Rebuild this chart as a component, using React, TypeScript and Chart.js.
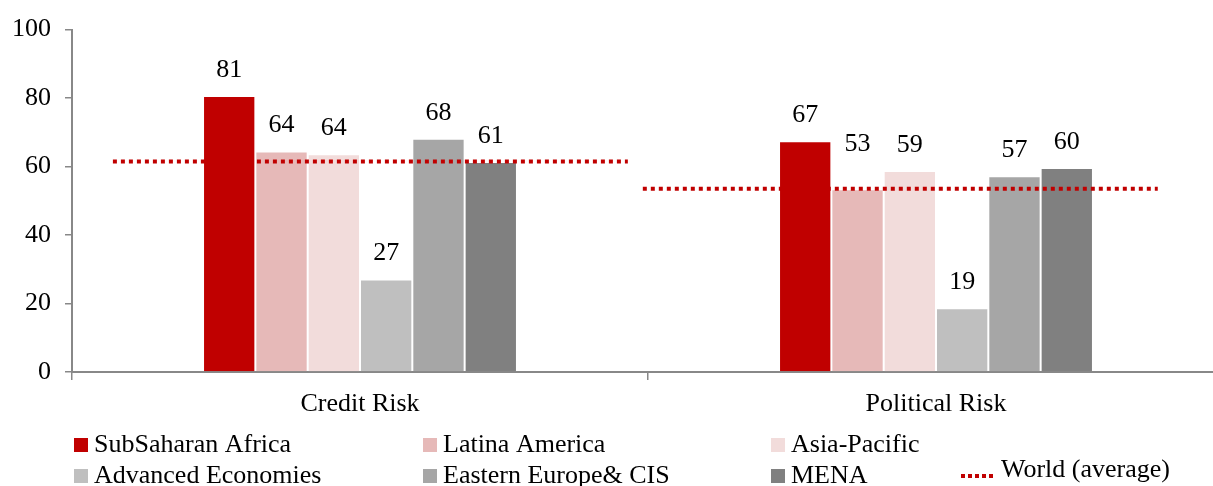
import React, { useEffect, useRef } from "react";
import { Chart, registerables } from "chart.js";

Chart.register(...registerables);

const categories = ["Credit Risk", "Political Risk"];
const seriesNames = [
  "SubSaharan Africa",
  "Latina America",
  "Asia-Pacific",
  "Advanced Economies",
  "Eastern Europe& CIS",
  "MENA",
];
const seriesColors = ["#C00000", "#E6B9B8", "#F2DCDB", "#BFBFBF", "#A6A6A6", "#808080"];
const subSaharan = [80.6, 67.4];
const latinAmerica = [64.4, 53.4];
const asiaPacific = [63.6, 58.7];
const advanced = [27.0, 18.6];
const easternEurope = [68.1, 57.2];
const mena = [61.3, 59.6];
const seriesValues = [subSaharan, latinAmerica, asiaPacific, advanced, easternEurope, mena];
const worldAverage = [61.5, 53.5];
// start/end of each world-average segment, in category-index units (category centres at 0 and 1)
const worldSpans = [
  [-0.429, 0.465],
  [0.491, 1.385],
];
const yTicks = [0, 20, 40, 60, 80, 100];
const worldName = "World (average)";

const FONT = '"Liberation Serif", "Times New Roman", serif';

export default function App() {
  const ref = useRef<HTMLCanvasElement | null>(null);

  useEffect(() => {
    if (!ref.current) return;

    const lineData: any[] = [];
    worldAverage.forEach((v, i) => {
      if (i > 0) lineData.push({ x: (worldSpans[i - 1][1] + worldSpans[i][0]) / 2, y: null });
      lineData.push({ x: worldSpans[i][0], y: v });
      lineData.push({ x: worldSpans[i][1], y: v });
    });

    const labelPlugin = {
      id: "barLabels",
      afterDatasetsDraw(chart: any) {
        const ctx = chart.ctx;
        ctx.save();
        ctx.font = `26px ${FONT}`;
        ctx.fillStyle = "#000";
        ctx.textAlign = "center";
        ctx.textBaseline = "middle";
        seriesValues.forEach((vals, di) => {
          const meta = chart.getDatasetMeta(di);
          meta.data.forEach((el: any, i: number) => {
            const lift = di === 1 && i === 1 ? 45 : 26;
            ctx.fillText(String(Math.round(vals[i])), el.x, el.y - lift);
          });
        });
        ctx.restore();
      },
    };

    const legendPlugin = {
      id: "customLegend",
      afterDraw(chart: any) {
        const ctx = chart.ctx;
        ctx.save();
        ctx.font = `26px ${FONT}`;
        ctx.textBaseline = "middle";
        ctx.textAlign = "left";
        const colX = [74, 423, 771];
        const rowY = [445, 476];
        seriesNames.forEach((name, i) => {
          const x = colX[i % 3];
          const y = rowY[Math.floor(i / 3)];
          ctx.fillStyle = seriesColors[i];
          ctx.fillRect(x, y - 7, 14, 14);
          ctx.fillStyle = "#000";
          ctx.fillText(name, x + 20, y);
        });
        const wy = 470;
        ctx.strokeStyle = "#C00000";
        ctx.lineWidth = 4;
        ctx.setLineDash([4, 3]);
        ctx.beginPath();
        ctx.moveTo(961, wy + 6);
        ctx.lineTo(994, wy + 6);
        ctx.stroke();
        ctx.setLineDash([]);
        ctx.fillStyle = "#000";
        ctx.fillText(worldName, 1001, wy);
        ctx.restore();
      },
    };

    const chart = new Chart(ref.current, {
      type: "bar",
      data: {
        labels: categories,
        datasets: [
          ...seriesNames.map((name, i) => ({
            type: "bar" as const,
            label: name,
            data: seriesValues[i],
            backgroundColor: seriesColors[i],
            borderColor: "rgba(255,255,255,0.35)",
            borderWidth: 1,
            categoryPercentage: 0.545,
            barPercentage: 1,
            order: 2,
          })),
          {
            type: "line" as const,
            label: worldName,
            data: lineData,
            parsing: false,
            normalized: true,
            borderColor: "#C00000",
            borderWidth: 4,
            borderDash: [4, 4],
            borderCapStyle: "butt",
            pointRadius: 0,
            spanGaps: false,
            fill: false,
            order: 1,
          } as any,
        ],
      },
      options: {
        responsive: false,
        animation: false,
        layout: { padding: { top: 13, right: 8, left: 0, bottom: 0 } },
        plugins: {
          legend: { display: false },
          tooltip: { enabled: false },
        },
        scales: {
          x: {
            type: "category",
            offset: true,
            grid: {
              offset: true,
              drawOnChartArea: false,
              drawTicks: true,
              tickLength: 8,
              color: "#888",
              lineWidth: 1.5,
            },
            border: { color: "#888", width: 2 },
            ticks: {
              color: "#000",
              font: { family: FONT, size: 26 },
              padding: 9,
            },
            afterFit(scale: any) {
              scale.height = 114;
            },
          },
          y: {
            min: 0,
            max: 100,
            afterBuildTicks(scale: any) {
              scale.ticks = yTicks.map((v) => ({ value: v }));
            },
            grid: {
              drawOnChartArea: false,
              tickLength: 7,
              color: "#888",
              lineWidth: 1.5,
            },
            border: { color: "#888", width: 2 },
            ticks: {
              color: "#000",
              font: { family: FONT, size: 26 },
              padding: 14,
            },
            afterFit(scale: any) {
              scale.width = 72;
            },
          },
        },
      },
      plugins: [labelPlugin, legendPlugin],
    });

    return () => chart.destroy();
  }, []);

  return (
    <div
      style={{
        position: "fixed",
        left: 0,
        top: 0,
        width: 1213,
        height: 486,
        overflow: "hidden",
        background: "#fff",
      }}
    >
      <canvas ref={ref} width={1232} height={486} style={{ display: "block" }} />
    </div>
  );
}
